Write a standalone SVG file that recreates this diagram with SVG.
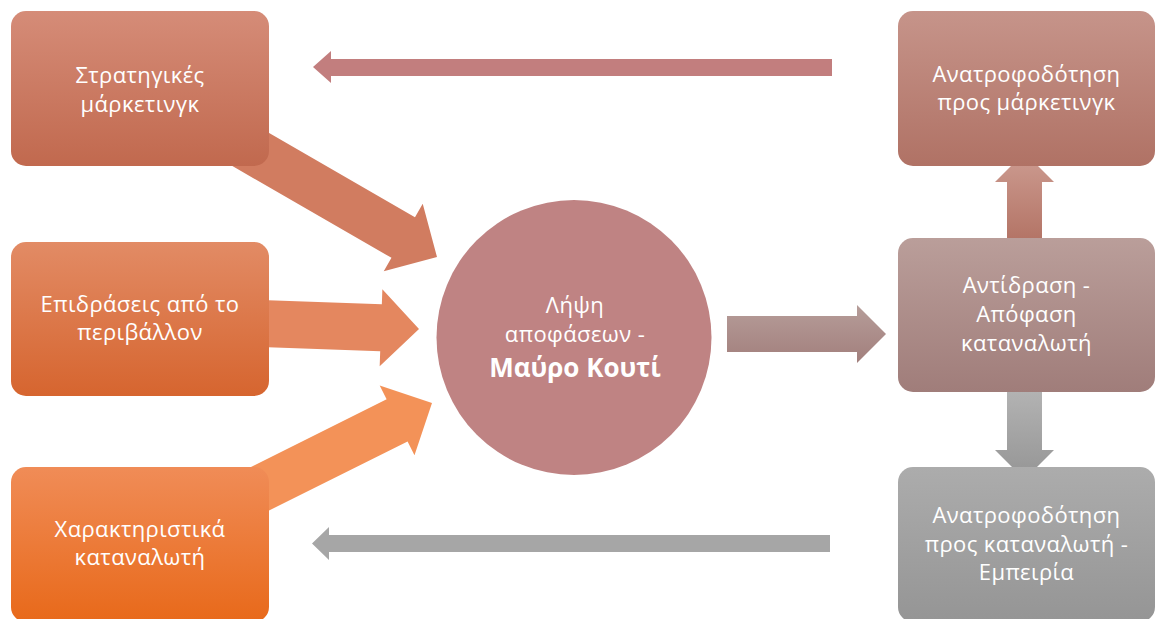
<svg xmlns="http://www.w3.org/2000/svg" width="1155" height="619" viewBox="0 0 1155 619">
<style>
text{font-family:"Open Sans","Noto Sans","DejaVu Sans",sans-serif;font-size:22px;letter-spacing:0.4px;fill:#ffffff;text-anchor:middle}
.b{font-weight:bold;font-size:26px;letter-spacing:0}
</style>
<defs>
<linearGradient id="gTL" x1="0" y1="0" x2="0" y2="1"><stop offset="0" stop-color="#D58C78"/><stop offset="1" stop-color="#C1694E"/></linearGradient>
<linearGradient id="gML" x1="0" y1="0" x2="0" y2="1"><stop offset="0" stop-color="#E28B65"/><stop offset="1" stop-color="#D6652F"/></linearGradient>
<linearGradient id="gBL" x1="0" y1="0" x2="0" y2="1"><stop offset="0" stop-color="#F08C57"/><stop offset="1" stop-color="#E8691A"/></linearGradient>
<linearGradient id="gTR" x1="0" y1="0" x2="0" y2="1"><stop offset="0" stop-color="#C6948A"/><stop offset="1" stop-color="#B07265"/></linearGradient>
<linearGradient id="gMR" x1="0" y1="0" x2="0" y2="1"><stop offset="0" stop-color="#BA9E9A"/><stop offset="1" stop-color="#A07D7A"/></linearGradient>
<linearGradient id="gBR" x1="0" y1="0" x2="0" y2="1"><stop offset="0" stop-color="#ACACAC"/><stop offset="1" stop-color="#959595"/></linearGradient>
<linearGradient id="aTL" gradientUnits="userSpaceOnUse" x1="0" y1="130" x2="0" y2="275"><stop offset="0" stop-color="#D17C60"/><stop offset="1" stop-color="#C2684D"/></linearGradient>
<linearGradient id="aML" gradientUnits="userSpaceOnUse" x1="0" y1="290" x2="0" y2="368"><stop offset="0" stop-color="#E4875F"/><stop offset="1" stop-color="#DA6835"/></linearGradient>
<linearGradient id="aBL" gradientUnits="userSpaceOnUse" x1="0" y1="385" x2="0" y2="510"><stop offset="0" stop-color="#F39258"/><stop offset="1" stop-color="#F07A26"/></linearGradient>
<linearGradient id="aMR" gradientUnits="userSpaceOnUse" x1="0" y1="305" x2="0" y2="363"><stop offset="0" stop-color="#B69D99"/><stop offset="1" stop-color="#A27F7C"/></linearGradient>
<linearGradient id="aUp" gradientUnits="userSpaceOnUse" x1="0" y1="166" x2="0" y2="238"><stop offset="0" stop-color="#C9968B"/><stop offset="1" stop-color="#B47567"/></linearGradient>
<linearGradient id="aDn" gradientUnits="userSpaceOnUse" x1="0" y1="390" x2="0" y2="467"><stop offset="0" stop-color="#B3B3B3"/><stop offset="1" stop-color="#999999"/></linearGradient>
</defs>

<g id="connectors">
<path fill="url(#aTL)" transform="translate(437,257) rotate(30)" d="M0,0 L-39,-39 L-39,-23.5 L-250,-23.5 L-250,23.5 L-39,23.5 L-39,39 Z"/>
<path fill="url(#aML)" transform="translate(419,329) rotate(2)" d="M0,0 L-38,-38.5 L-38,-23.5 L-200,-23.5 L-200,23.5 L-38,23.5 L-38,38.5 Z"/>
<path fill="url(#aBL)" transform="translate(432,403) rotate(-26.5)" d="M0,0 L-39,-39 L-39,-23.5 L-250,-23.5 L-250,23.5 L-39,23.5 L-39,39 Z"/>
<path fill="#C27E7E" d="M313,67 L331,51 L331,59 L832,59 L832,76 L331,76 L331,83 Z"/>
<path fill="#A6A6A6" d="M312,543.5 L329,527 L329,535 L830,535 L830,552 L329,552 L329,560 Z"/>
<path fill="url(#aMR)" d="M886,334 L857,305 L857,316 L727,316 L727,352 L857,352 L857,363 Z"/>
<path fill="url(#aUp)" d="M1024.5,152.5 L1054,182 L1042,182 L1042,260 L1007,260 L1007,182 L995,182 Z"/>
<path fill="url(#aDn)" d="M1024.5,479.5 L1054,450 L1042,450 L1042,370 L1007,370 L1007,450 L995,450 Z"/>
</g>

<g id="strategic-marketing">
<rect x="11" y="11" width="258" height="155" rx="15" fill="url(#gTL)"/>
<text x="140" y="83">Στρατηγικές</text>
<text x="140" y="112">μάρκετινγκ</text>
</g>
<g id="environment">
<rect x="11" y="242" width="258" height="154" rx="15" fill="url(#gML)"/>
<text x="140" y="312">Επιδράσεις από το</text>
<text x="140" y="340">περιβάλλον</text>
</g>
<g id="consumer-traits">
<rect x="11" y="467" width="258" height="155" rx="15" fill="url(#gBL)"/>
<text x="140" y="537">Χαρακτηριστικά</text>
<text x="140" y="565">καταναλωτή</text>
</g>
<g id="black-box">
<circle cx="574" cy="337.5" r="137.5" fill="#BF8383"/>
<text x="575" y="313">Λήψη</text>
<text x="575" y="342">αποφάσεων -</text>
<text class="b" x="575" y="377">Μαύρο Κουτί</text>
</g>
<g id="feedback-marketing">
<rect x="898" y="11" width="257" height="155" rx="15" fill="url(#gTR)"/>
<text x="1026.5" y="82">Ανατροφοδότηση</text>
<text x="1026.5" y="110">προς μάρκετινγκ</text>
</g>
<g id="consumer-response">
<rect x="898" y="238" width="257" height="154" rx="15" fill="url(#gMR)"/>
<text x="1026.5" y="293">Αντίδραση -</text>
<text x="1026.5" y="322">Απόφαση</text>
<text x="1026.5" y="351">καταναλωτή</text>
</g>
<g id="feedback-consumer">
<rect x="898" y="467" width="257" height="155" rx="15" fill="url(#gBR)"/>
<text x="1026.5" y="523">Ανατροφοδότηση</text>
<text x="1026.5" y="552">προς καταναλωτή -</text>
<text x="1026.5" y="580">Εμπειρία</text>
</g>
</svg>
